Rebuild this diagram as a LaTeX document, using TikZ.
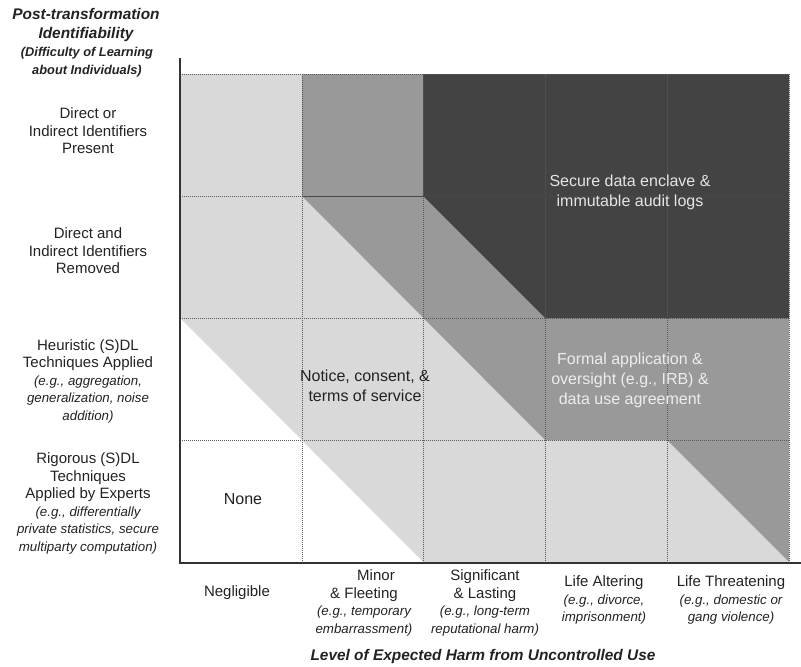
\documentclass[tikz,border=0pt]{standalone}
\usepackage{fontspec}
\setmainfont{Liberation Sans}
\definecolor{lightg}{HTML}{D9D9D9}
\definecolor{midg}{HTML}{999999}
\definecolor{darkg}{HTML}{434343}
\definecolor{axisc}{HTML}{333333}
\definecolor{gridc}{HTML}{5A5A5A}
\definecolor{txt}{HTML}{222222}
\newcommand{\ital}[1]{{\fontsize{13.3}{17.5}\selectfont\itshape #1}}
\tikzset{
  lbl/.style={align=center,inner sep=0pt,text=txt,font=\fontsize{15}{17.5}\selectfont},
  inlbl/.style={align=center,inner sep=0pt,text=txt,font=\fontsize{16}{20}\selectfont},
  ttl/.style={align=center,inner sep=0pt,text=txt,font=\fontsize{15.4}{19}\selectfont\bfseries\itshape},
  subttl/.style={align=center,inner sep=0pt,text=txt,font=\fontsize{12.8}{18}\selectfont\bfseries\itshape},
  gridline/.style={gridc,line width=0.8pt,dash pattern=on 1pt off 1pt},
  axisline/.style={axisc,line width=2pt},
}
\begin{document}
\begin{tikzpicture}[x=1pt,y=-1pt]
\useasboundingbox (0,0) rectangle (801,667);
% regions
\fill[lightg] (180,74) rectangle (789,562);
\fill[white] (180,318) -- (180,562) -- (423,562) -- cycle;
\fill[midg] (302,74) -- (423,74) -- (423,196) -- (545,318) -- (789,318) -- (789,562) -- (667,440) -- (545,440) -- (302,196) -- cycle;
\fill[darkg] (423,74) -- (789,74) -- (789,318) -- (545,318) -- (423,196) -- cycle;
% grid
\foreach \xx in {302,423,545,667,789} \draw[gridline] (\xx,74) -- (\xx,562);
\foreach \yy in {74,196,318,440} \draw[gridline] (180,\yy) -- (789,\yy);
\draw[gridc!80!black,line width=0.7pt] (302,196) -- (789,196);
% axes
\coordinate (ytop) at (180,58);
\coordinate (origin) at (180,563);
\coordinate (xend) at (801,563);
\draw[axisline] (ytop) -- (origin) -- (xend);
% y-axis title
\node[ttl] (ytitle) at (86,25.5) {Post-transformation\\Identifiability};
\node[subttl] (ysub) at (87,62) {(Difficulty of Learning\\about Individuals)};
% row labels
\node[lbl] (r0) at (88,131) {Direct or\\Indirect Identifiers\\Present};
\node[lbl] (r1) at (88,251) {Direct and\\Indirect Identifiers\\Removed};
\node[lbl] (r2) at (88,381) {Heuristic (S)DL\\Techniques Applied\\\ital{(e.g., aggregation,}\\\ital{generalization, noise}\\\ital{addition)}};
\node[lbl] (r3) at (88,503.5) {Rigorous (S)DL\\Techniques\\Applied by Experts\\\ital{(e.g., differentially}\\\ital{private statistics, secure}\\\ital{multiparty computation)}};
% column labels
\node[lbl] (c0) at (237,593) {Negligible};
\node[lbl] (c1) at (364,603) {\hspace*{24pt}Minor\\\& Fleeting\\\ital{(e.g., temporary}\\\ital{embarrassment)}};
\node[lbl] (c2) at (485,603) {Significant\\\& Lasting\\\ital{(e.g., long-term}\\\ital{reputational harm)}};
\node[lbl] (c3) at (604,600) {Life Altering\\\ital{(e.g., divorce,}\\\ital{imprisonment)}};
\node[lbl] (c4) at (731,600) {Life Threatening\\\ital{(e.g., domestic or}\\\ital{gang violence)}};
\node[ttl] (xtitle) at (483,657) {Level of Expected Harm from Uncontrolled Use};
% region labels
\node[inlbl] (none) at (243,499) {None};
\node[inlbl] (notice) at (365,385.5) {Notice, consent, \&\\terms of service};
\node[inlbl,text=white!90!black] (secure) at (630,192) {Secure data enclave \&\\immutable audit logs};
\node[inlbl,text=white!93!black] (formal) at (630,380.5) {Formal application \&\\oversight (e.g., IRB) \&\\data use agreement};
\end{tikzpicture}
\end{document}
